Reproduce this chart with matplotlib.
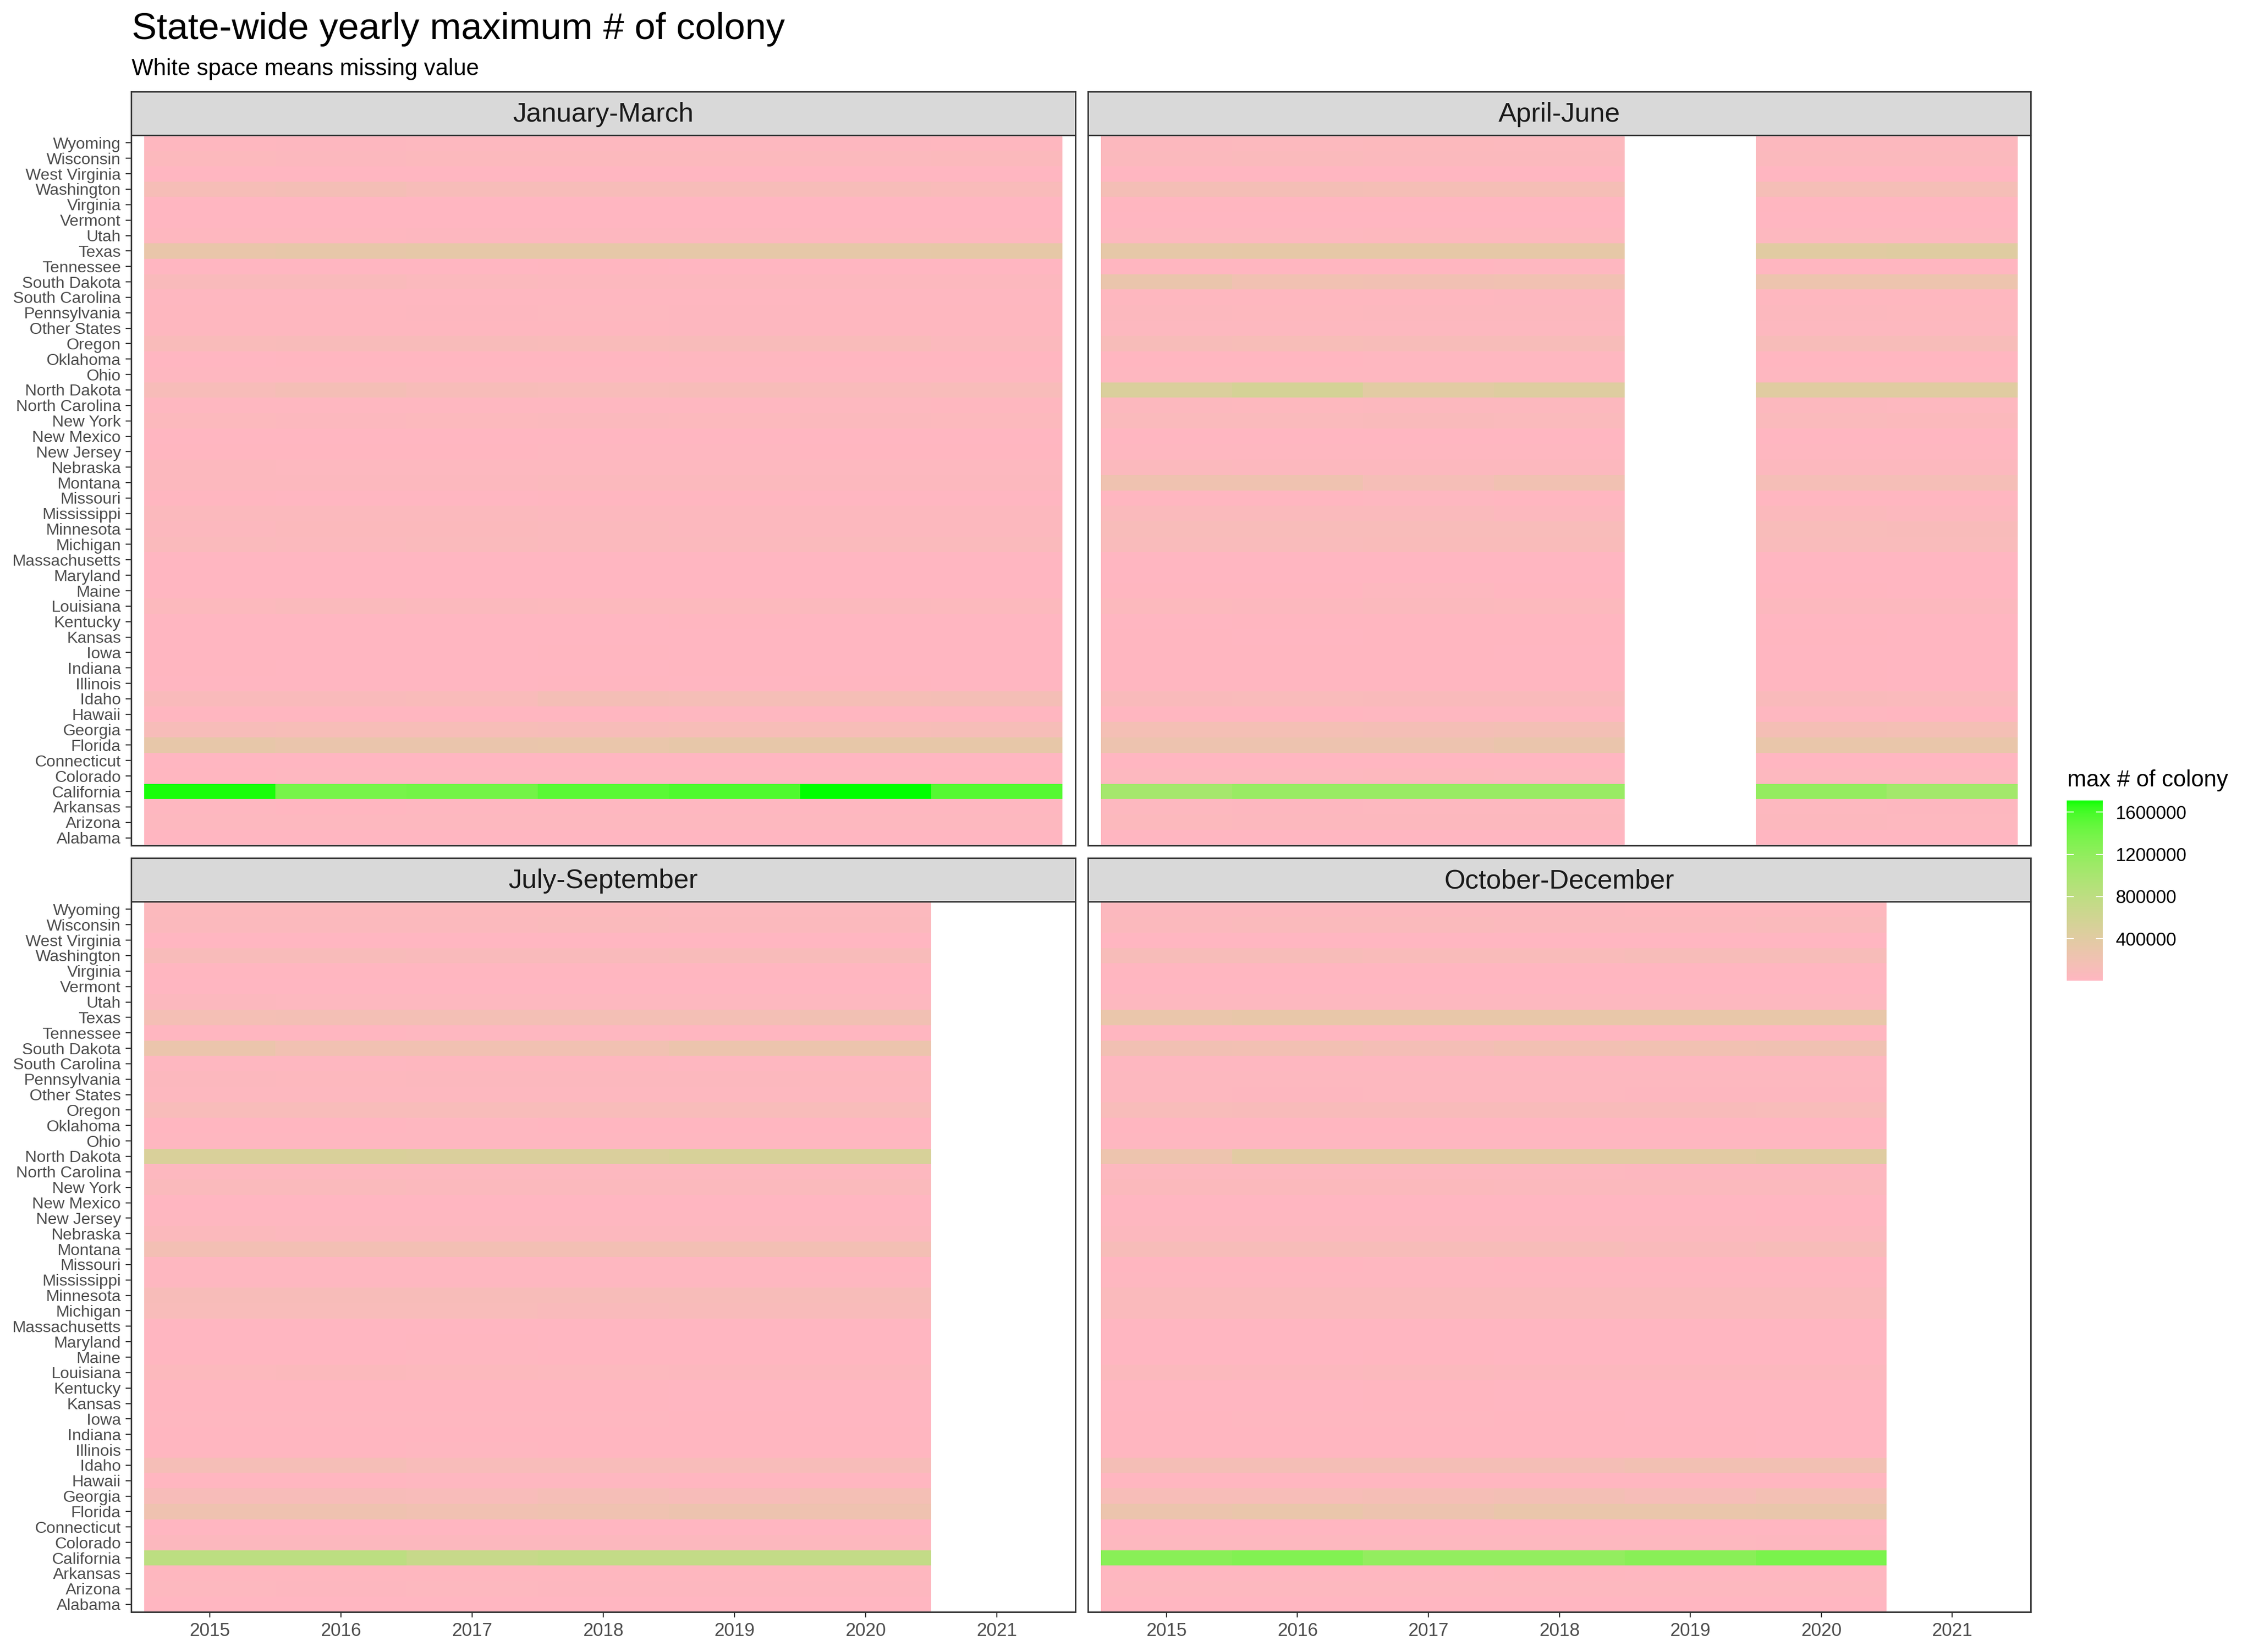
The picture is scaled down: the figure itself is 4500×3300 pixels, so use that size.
import numpy as np
import matplotlib
matplotlib.use("Agg")
import matplotlib.pyplot as plt
from matplotlib.colors import ListedColormap, Normalize
from matplotlib.cm import ScalarMappable

plt.rcParams['font.family'] = ['Liberation Sans', 'DejaVu Sans']

# ---------------- data (values in thousands of colonies) ----------------
states = ["Alabama", "Arizona", "Arkansas", "California", "Colorado", "Connecticut",
          "Florida", "Georgia", "Hawaii", "Idaho", "Illinois", "Indiana", "Iowa",
          "Kansas", "Kentucky", "Louisiana", "Maine", "Maryland", "Massachusetts",
          "Michigan", "Minnesota", "Mississippi", "Missouri", "Montana", "Nebraska",
          "New Jersey", "New Mexico", "New York", "North Carolina", "North Dakota",
          "Ohio", "Oklahoma", "Oregon", "Other States", "Pennsylvania",
          "South Carolina", "South Dakota", "Tennessee", "Texas", "Utah", "Vermont",
          "Virginia", "Washington", "West Virginia", "Wisconsin", "Wyoming"]
years = [2015, 2016, 2017, 2018, 2019, 2020, 2021]
quarters = ["January-March", "April-June", "July-September", "October-December"]

jan_mar_k = [
    [7, 7.5, 7, 7.5, 8, 9, 8],
    [35, 30, 32, 33, 35, 32, 30],
    [14, 12, 14, 15, 16, 14, 13],
    [1690, 1370, 1390, 1520, 1560, 1710, 1540],
    [12, 14, 15, 16, 14, 13, 12],
    [3.5, 3.3, 3, 3.2, 3.4, 3.1, 2.8],
    [320, 280, 280, 290, 320, 325, 325],
    [110, 120, 120, 115, 120, 120, 125],
    [10, 10.5, 11, 12, 13, 12, 11],
    [80, 80, 90, 150, 140, 145, 150],
    [8, 9, 9, 10, 9, 10, 9],
    [10, 9, 8, 9, 10, 9, 8],
    [6, 5, 7, 11, 8, 7, 6],
    [7, 6, 8, 9, 8, 7, 6],
    [6, 7, 8, 9, 10, 8, 7],
    [50, 70, 55, 50, 50, 55, 50],
    [6, 5, 7, 8, 8, 9, 8],
    [5, 6, 6, 7, 8, 7, 6],
    [4.5, 5, 5, 6, 6, 5, 5],
    [70, 55, 70, 55, 60, 70, 70],
    [45, 65, 65, 60, 45, 45, 45],
    [60, 60, 60, 40, 40, 40, 40],
    [10, 9, 9, 12, 10, 9, 8],
    [40, 45, 45, 60, 60, 45, 45],
    [45, 35, 35, 35, 35, 35, 35],
    [12, 11, 12, 13, 14, 12, 12],
    [6, 7, 7, 8, 7, 6, 6],
    [50, 45, 50, 55, 50, 60, 50],
    [20, 18, 20, 22, 20, 35, 25],
    [110, 150, 110, 100, 110, 85, 100],
    [15, 14, 16, 17, 16, 15, 14],
    [9, 10, 11, 10, 25, 12, 10],
    [90, 95, 95, 90, 95, 90, 60],
    [25, 24, 26, 25, 27, 26, 24],
    [25, 24, 27, 30, 28, 26, 25],
    [16, 15, 17, 18, 17, 16, 16],
    [80, 80, 60, 45, 40, 45, 40],
    [9, 8, 9, 10, 9, 8, 8],
    [300, 320, 330, 330, 330, 330, 335],
    [25, 26, 28, 27, 28, 25, 25],
    [5, 5.5, 6, 6, 6.5, 6, 5.5],
    [7, 8, 8, 9, 9, 8, 8],
    [130, 150, 110, 110, 110, 110, 90],
    [5, 5.5, 6, 6, 6, 5.5, 5],
    [50, 45, 50, 50, 50, 60, 65],
    [25, 28, 30, 32, 30, 28, 26],
]

apr_jun_k = [
    [9, 8, 8, 9, None, 9, 8],
    [50, 45, 45, 40, None, 40, 35],
    [30, 28, 30, 30, None, 30, 28],
    [1030, 1130, 1130, 1130, None, 1170, 1050],
    [35, 36, 38, 35, None, 35, 32],
    [4, 4, 4.5, 4.5, None, 4, 4],
    [240, 240, 245, 280, None, 300, 300],
    [160, 160, 150, 165, None, 155, 160],
    [12, 12, 13, 14, None, 13, 12],
    [80, 85, 80, 80, None, 80, 75],
    [10, 11, 12, 11, None, 10, 9],
    [11, 10, 10, 11, None, 10, 9],
    [11, 10, 10, 9, None, 9, 8],
    [10, 9, 10, 11, None, 10, 9],
    [9, 10, 11, 10, None, 9, 9],
    [50, 45, 60, 50, None, 45, 40],
    [10, 10, 30, 10, None, 10, 9],
    [8, 8, 9, 9, None, 8, 8],
    [7, 7, 8, 8, None, 7, 7],
    [85, 85, 90, 90, None, 85, 85],
    [100, 100, 100, 100, None, 100, 95],
    [70, 70, 70, 40, None, 65, 40],
    [12, 12, 13, 12, None, 11, 10],
    [220, 220, 140, 200, None, 140, 140],
    [60, 45, 45, 45, None, 45, 45],
    [15, 14, 15, 16, None, 14, 13],
    [8, 8, 9, 9, None, 8, 8],
    [70, 75, 80, 75, None, 70, 65],
    [40, 38, 40, 42, None, 40, 35],
    [480, 550, 390, 430, None, 410, 410],
    [18, 17, 18, 19, None, 17, 16],
    [12, 12, 13, 14, None, 12, 12],
    [110, 120, 110, 110, None, 110, 110],
    [35, 33, 35, 36, None, 34, 32],
    [40, 38, 42, 45, None, 40, 38],
    [25, 24, 26, 27, None, 25, 24],
    [280, 200, 190, 200, None, 250, 250],
    [12, 11, 12, 13, None, 12, 11],
    [330, 340, 340, 340, None, 400, 420],
    [35, 36, 38, 37, None, 35, 33],
    [7, 7, 8, 8, None, 7, 7],
    [10, 11, 11, 12, None, 11, 10],
    [150, 150, 145, 145, None, 140, 140],
    [7, 7, 8, 8, None, 7, 7],
    [60, 75, 60, 60, None, 60, 60],
    [45, 48, 50, 48, None, 45, 42],
]

jul_sep_k = [
    [9, 9, 8, 9, 9, 9, None],
    [30, 28, 30, 29, 28, 27, None],
    [25, 24, 26, 25, 24, 23, None],
    [810, 810, 700, 740, 740, 740, None],
    [40, 42, 45, 42, 40, 38, None],
    [4, 4, 4.5, 4, 4, 4, None],
    [225, 225, 195, 215, 245, 220, None],
    [110, 110, 100, 140, 110, 160, None],
    [12, 12, 13, 13, 12, 12, None],
    [140, 140, 100, 100, 100, 110, None],
    [12, 12, 13, 12, 11, 11, None],
    [12, 11, 11, 12, 11, 10, None],
    [15, 14, 15, 16, 10, 9, None],
    [10, 10, 11, 10, 9, 9, None],
    [10, 10, 11, 10, 9, 9, None],
    [50, 65, 50, 48, 45, 45, None],
    [12, 12, 13, 12, 12, 11, None],
    [9, 9, 10, 9, 9, 8, None],
    [8, 8, 9, 8, 8, 8, None],
    [100, 100, 100, 80, 95, 95, None],
    [115, 115, 115, 115, 110, 110, None],
    [20, 20, 22, 22, 20, 20, None],
    [14, 13, 14, 14, 13, 12, None],
    [170, 170, 170, 170, 170, 170, None],
    [65, 45, 45, 45, 45, 45, None],
    [15, 15, 16, 15, 14, 14, None],
    [8, 8, 9, 9, 8, 8, None],
    [75, 75, 60, 60, 60, 75, None],
    [35, 35, 36, 35, 34, 33, None],
    [500, 500, 480, 480, 520, 520, None],
    [20, 19, 20, 21, 20, 19, None],
    [12, 12, 13, 12, 11, 11, None],
    [100, 100, 100, 100, 100, 100, None],
    [35, 34, 36, 35, 34, 33, None],
    [40, 38, 42, 42, 40, 38, None],
    [22, 22, 23, 24, 22, 21, None],
    [270, 200, 200, 200, 260, 260, None],
    [12, 12, 13, 13, 12, 12, None],
    [160, 165, 165, 165, 165, 190, None],
    [45, 35, 36, 35, 34, 33, None],
    [8, 8, 9, 8, 8, 8, None],
    [11, 11, 12, 12, 11, 10, None],
    [95, 95, 80, 80, 95, 95, None],
    [7, 7, 8, 8, 7, 7, None],
    [60, 60, 60, 75, 60, 60, None],
    [50, 50, 52, 50, 48, 47, None],
]

oct_dec_k = [
    [8, 8, 8, 9, 9, 9, None],
    [35, 33, 34, 35, 34, 33, None],
    [22, 21, 22, 23, 22, 21, None],
    [1250, 1300, 1180, 1180, 1250, 1350, None],
    [30, 32, 33, 32, 30, 29, None],
    [3.5, 3.5, 4, 4, 3.8, 3.6, None],
    [265, 290, 240, 290, 290, 295, None],
    [120, 120, 145, 165, 125, 175, None],
    [11, 11, 12, 12, 11, 11, None],
    [150, 150, 150, 150, 180, 180, None],
    [10, 10, 11, 10, 10, 9, None],
    [10, 10, 10, 11, 10, 9, None],
    [10, 14, 14, 10, 9, 9, None],
    [9, 9, 10, 9, 9, 8, None],
    [9, 9, 10, 9, 9, 8, None],
    [55, 45, 55, 45, 45, 45, None],
    [9, 9, 10, 9, 9, 9, None],
    [8, 8, 9, 8, 8, 8, None],
    [7, 7, 8, 7, 7, 7, None],
    [70, 70, 70, 70, 70, 70, None],
    [75, 75, 75, 75, 75, 75, None],
    [20, 20, 21, 20, 20, 19, None],
    [12, 12, 13, 12, 12, 11, None],
    [110, 110, 110, 110, 80, 110, None],
    [45, 44, 45, 45, 44, 43, None],
    [13, 13, 14, 13, 13, 12, None],
    [7, 7, 8, 8, 7, 7, None],
    [65, 65, 65, 60, 60, 60, None],
    [30, 30, 31, 30, 29, 28, None],
    [250, 390, 390, 390, 390, 420, None],
    [17, 17, 18, 18, 17, 16, None],
    [11, 11, 12, 11, 10, 10, None],
    [100, 95, 95, 95, 95, 100, None],
    [30, 29, 31, 30, 29, 28, None],
    [35, 34, 36, 36, 35, 34, None],
    [20, 20, 21, 21, 20, 19, None],
    [190, 185, 150, 185, 200, 205, None],
    [11, 11, 12, 12, 11, 11, None],
    [290, 310, 310, 310, 310, 315, None],
    [35, 34, 36, 35, 34, 33, None],
    [7, 7, 8, 7, 7, 7, None],
    [10, 10, 11, 11, 10, 10, None],
    [110, 110, 90, 90, 110, 110, None],
    [6, 6, 7, 7, 6, 6, None],
    [55, 70, 70, 55, 55, 70, None],
    [40, 40, 42, 40, 39, 38, None],
]

legend_ticks = [400000, 800000, 1200000, 1600000]
legend_labels = ["400000", "800000", "1200000", "1600000"]

title = "State-wide yearly maximum # of colony"
subtitle = "White space means missing value"
legend_title = "max # of colony"


def to_array(rows):
    a = np.array([[np.nan if v is None else v * 1000.0 for v in r] for r in rows])
    return np.ma.masked_invalid(a)


panels = [to_array(jan_mar_k), to_array(apr_jun_k), to_array(jul_sep_k), to_array(oct_dec_k)]


# ---------------- colour scale: lightpink -> green, interpolated in CIELAB ----------------
def srgb_to_lab(rgb):
    rgb = np.asarray(rgb, float)
    lin = np.where(rgb <= 0.04045, rgb / 12.92, ((rgb + 0.055) / 1.055) ** 2.4)
    M = np.array([[0.4124, 0.3576, 0.1805], [0.2126, 0.7152, 0.0722], [0.0193, 0.1192, 0.9505]])
    xyz = M @ lin / np.array([0.95047, 1.0, 1.08883])
    f = np.where(xyz > 216 / 24389, np.cbrt(xyz), (24389 / 27 * xyz + 16) / 116)
    return np.array([116 * f[1] - 16, 500 * (f[0] - f[1]), 200 * (f[1] - f[2])])


def lab_to_srgb(lab):
    L, a, b = lab
    fy = (L + 16) / 116
    fx = fy + a / 500
    fz = fy - b / 200
    def finv(t):
        return np.where(t ** 3 > 216 / 24389, t ** 3, (116 * t - 16) * 27 / 24389)
    xyz = np.array([finv(fx), finv(fy), finv(fz)]) * np.array([0.95047, 1.0, 1.08883])
    Minv = np.linalg.inv(np.array([[0.4124, 0.3576, 0.1805], [0.2126, 0.7152, 0.0722],
                                   [0.0193, 0.1192, 0.9505]]))
    lin = np.clip(Minv @ xyz, 0, 1)
    rgb = np.where(lin <= 0.0031308, 12.92 * lin, 1.055 * lin ** (1 / 2.4) - 0.055)
    return np.clip(rgb, 0, 1)


low = srgb_to_lab([1.0, 182 / 255, 193 / 255])   # lightpink
high = srgb_to_lab([0.0, 1.0, 0.0])              # green
cols = [lab_to_srgb(low + (high - low) * t) for t in np.linspace(0, 1, 512)]
cmap = ListedColormap(cols)

allvals = np.concatenate([p.compressed() for p in panels])
norm = Normalize(vmin=allvals.min(), vmax=allvals.max())

# ---------------- layout ----------------
W, H = 4500, 3300
fig = plt.figure(figsize=(W / 300, H / 300), dpi=300)


def px_axes(x0, y0, x1, y1):
    return fig.add_axes([x0 / W, 1 - y1 / H, (x1 - x0) / W, (y1 - y0) / H])


col_x = [(262, 2148), (2173, 4056)]
row_y = [((183, 270), (270, 1689)), ((1714, 1801), (1801, 3220))]
xedges = np.arange(years[0] - 0.5, years[-1] + 1.0, 1.0)
yedges = np.arange(-0.5, len(states), 1.0)
border = '#333333'

for i, (name, data) in enumerate(zip(quarters, panels)):
    r, c = divmod(i, 2)
    x0, x1 = col_x[c]
    (sy0, sy1), (py0, py1) = row_y[r]
    ax = px_axes(x0, py0, x1, py1)
    ax.pcolormesh(xedges, yedges, data, cmap=cmap, norm=norm, shading='flat')
    ax.set_xlim(years[0] - 0.6, years[-1] + 0.6)
    ax.set_ylim(-0.5, len(states) - 0.5)
    for s in ax.spines.values():
        s.set_color(border)
        s.set_linewidth(0.7)
    ax.set_xticks(years)
    ax.set_xticklabels([str(y) for y in years])
    ax.set_yticks(range(len(states)))
    ax.set_yticklabels(states)
    ax.tick_params(axis='both', length=2.75, width=0.55, color=border,
                   labelsize=8.8, labelcolor='#4D4D4D', pad=2.2)
    ax.tick_params(axis='y', labelsize=7.8)
    if c == 1:
        ax.tick_params(axis='y', left=False, labelleft=False)
    if r == 0:
        ax.tick_params(axis='x', bottom=False, labelbottom=False)

    sax = px_axes(x0, sy0, x1, sy1)
    sax.set_facecolor('#D9D9D9')
    sax.set_xticks([])
    sax.set_yticks([])
    for s in sax.spines.values():
        s.set_color(border)
        s.set_linewidth(0.7)
    sax.text(0.5, 0.47, name, transform=sax.transAxes, ha='center', va='center',
             fontsize=13, color='#1A1A1A')

# titles
fig.text(263 / W, 1 - 78 / H, title, fontsize=18, va='baseline', ha='left', color='black')
fig.text(263 / W, 1 - 150 / H, subtitle, fontsize=11, va='baseline', ha='left', color='black')

# legend
cax = px_axes(4128, 1599, 4200, 1959)
cb = fig.colorbar(ScalarMappable(norm=norm, cmap=cmap), cax=cax, ticks=legend_ticks)
cb.set_ticklabels(legend_labels)
cb.outline.set_visible(False)
cb.minorticks_off()
cax.tick_params(axis='y', which='major', direction='in', length=3.4, width=0.5,
                color='white', labelcolor='black', labelsize=8.8, pad=6,
                left=True, right=True, labelleft=False, labelright=True)
fig.text(4129 / W, 1 - 1571 / H, legend_title, fontsize=11, va='baseline', ha='left')

fig.savefig('out.png', dpi=300, facecolor='white')
